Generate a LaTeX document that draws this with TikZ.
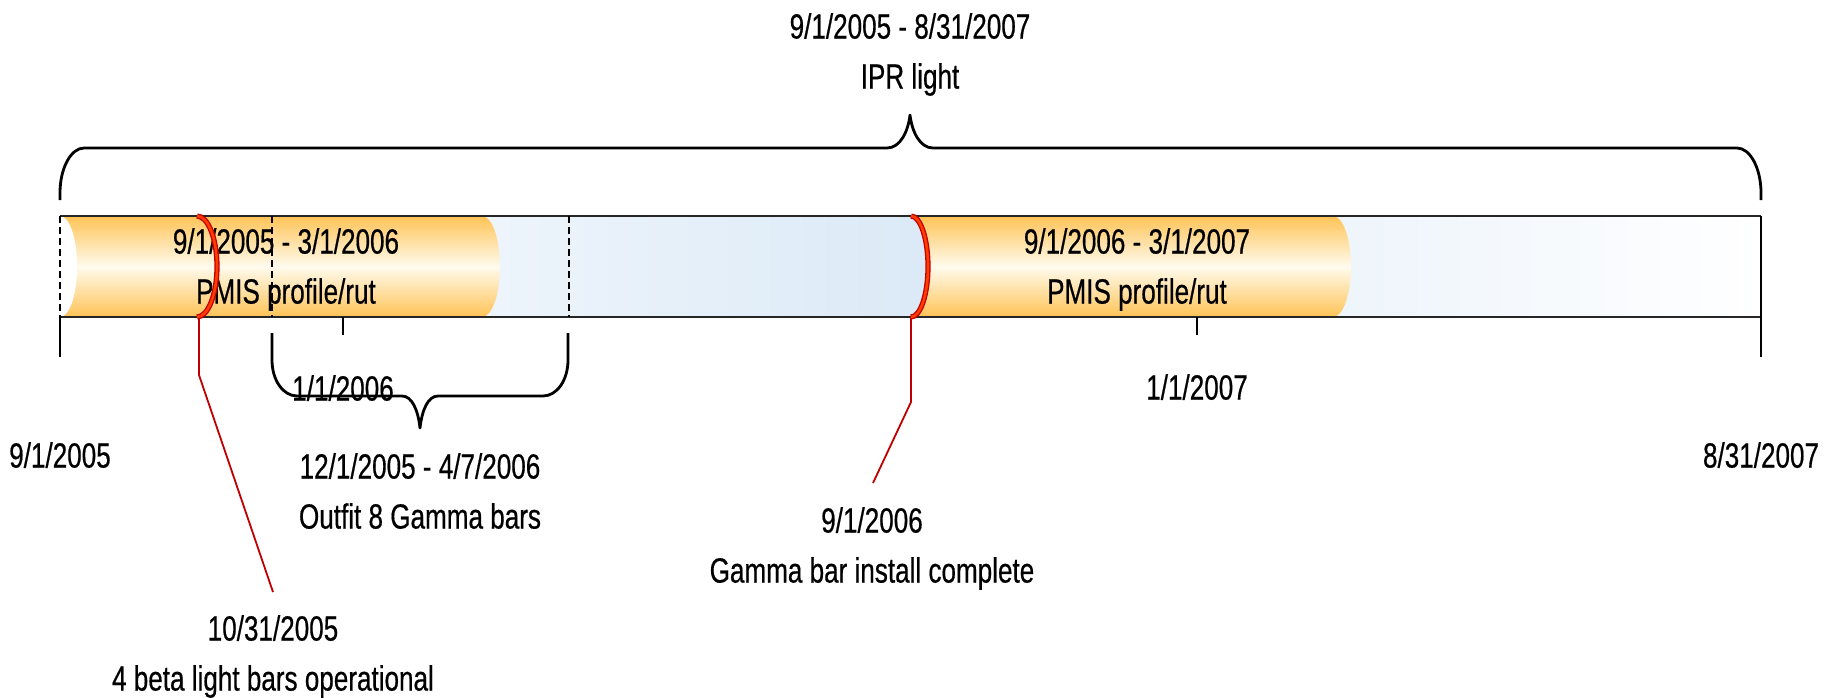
\documentclass[tikz,border=0pt]{standalone}
\usepackage{fontspec}
\setmainfont{Liberation Sans}[FakeStretch=0.745,FakeBold=0.5]
\usetikzlibrary{positioning}
\definecolor{cylorange}{RGB}{255,195,86}
\definecolor{cylcream}{RGB}{255,251,238}
\definecolor{bandblue}{RGB}{220,234,247}
\definecolor{msred}{RGB}{192,0,0}
\definecolor{msfire}{RGB}{255,60,0}
\tikzset{
  lbl/.style={font=\fontsize{35}{50}\selectfont,align=center,inner sep=0pt,anchor=north},
  brace/.style={line width=2.8pt,line join=round},
  tickline/.style={line width=1.8pt},
  guide/.style={line width=1.5pt,dash pattern=on 7pt off 4pt},
  milestone/.style={draw=msred,line width=1.8pt},
  msarc/.style={draw=msred,double=msfire,double distance=2.6pt,line width=1.3pt},
  cyl/.style={top color=cylorange,bottom color=cylorange,middle color=cylcream}
}
\begin{document}
\begin{tikzpicture}[x=1pt,y=-1pt]
\useasboundingbox (0,0) rectangle (1835,697);
% timeline band
\shade[left color=white,right color=bandblue] (60,216) rectangle (911,317);
\shade[left color=bandblue,right color=white] (911,216) rectangle (1761,317);
% PMIS cylinders
\shade[cyl] (60,216) -- (482,216) arc[start angle=-90,end angle=90,x radius=18,y radius=50.5]
  -- (60,317) arc[start angle=90,end angle=-90,x radius=17,y radius=50.5] -- cycle;
\fill[white] (60,216) arc[start angle=-90,end angle=90,x radius=17,y radius=50.5] -- cycle;
\shade[cyl] (911,216) -- (1333,216) arc[start angle=-90,end angle=90,x radius=18,y radius=50.5]
  -- (911,317) arc[start angle=90,end angle=-90,x radius=17,y radius=50.5] -- cycle;
\node[lbl] (pmisA) at (286,228) {9/1/2005 - 3/1/2006\\PMIS profile/rut};
\node[lbl] (pmisB) at (1137,228) {9/1/2006 - 3/1/2007\\PMIS profile/rut};
% band outline and scale
\draw[line width=1.8pt,black!85] (60,216) -- (1761,216) (60,317) -- (1761,317);
\draw[guide] (60,216) -- (60,317) (272,216) -- (272,317) (569,216) -- (569,317);
\draw[tickline] (60,317) -- (60,357) (1761,216) -- (1761,357)
  (343,317) -- (343,335) (1197,317) -- (1197,335);
\node[lbl] (start) at (60,442) {9/1/2005};
\node[lbl] (finish) at (1761,442) {8/31/2007};
\node[lbl] (jan06) at (343,375) {1/1/2006};
\node[lbl] (jan07) at (1197,374) {1/1/2007};
% IPR light
\draw[brace] (60,200) -- (60,193) .. controls (60,168) and (71,148) .. (84,148) -- (887,148)
  .. controls (900,148) and (908,132) .. (910,115) .. controls (912,132) and (920,148) .. (933,148)
  -- (1737,148) .. controls (1750,148) and (1761,168) .. (1761,193) -- (1761,200);
\node[lbl] (ipr) at (910,13) {9/1/2005 - 8/31/2007\\IPR light};
% gamma bars
\draw[brace] (272,333) -- (272,360) .. controls (272,380) and (283,396) .. (297,396) -- (402,396)
  .. controls (412,396) and (418,410) .. (420,428) .. controls (422,410) and (428,396) .. (438,396)
  -- (543,396) .. controls (557,396) and (568,380) .. (568,360) -- (568,333);
\node[lbl] (gamma) at (420,453) {12/1/2005 - 4/7/2006\\Outfit 8 Gamma bars};
% milestones
\coordinate (beta) at (199,317);
\coordinate (install) at (911,317);
\node[lbl] (betalbl) at (273,615) {10/31/2005\\4 beta light bars operational};
\node[lbl] (installlbl) at (872,507) {9/1/2006\\Gamma bar install complete};
\draw[milestone] (beta) -- ++(0,58) -- ([yshift=23pt]betalbl.north);
\draw[milestone] (install) -- ++(0,85) -- ([yshift=24pt,xshift=1pt]installlbl.north);
\draw[msarc] (197,216) arc[start angle=-90,end angle=90,x radius=20,y radius=50.5];
\draw[msarc] (911,216) arc[start angle=-90,end angle=90,x radius=17,y radius=50.5];
\end{tikzpicture}
\end{document}
